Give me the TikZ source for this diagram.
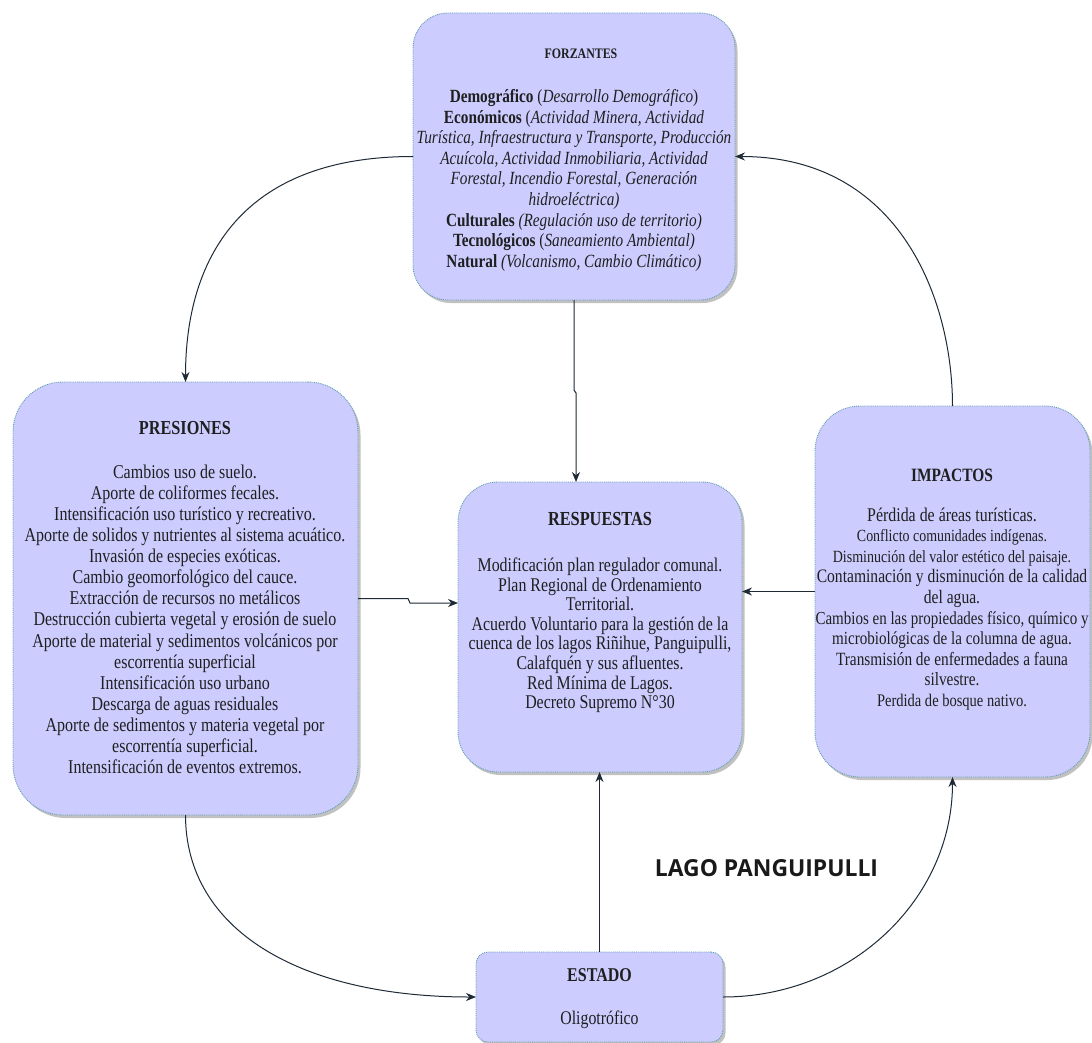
\documentclass[tikz,border=0pt]{standalone}
\usepackage{graphicx}
\usepackage{fontspec}
\setmainfont{Liberation Serif}[FakeStretch=0.82]
\newfontfamily\lagofont{Open Sans}
\usetikzlibrary{arrows.meta,shadows,calc}
\definecolor{boxfill}{HTML}{CCCCFF}
\definecolor{boxline}{HTML}{5E9CB0}
\definecolor{edgecol}{HTML}{1E2A36}
\newcommand{\fs}[1]{\fontsize{#1}{#1}\selectfont}
\begin{document}
\begin{tikzpicture}[x=1pt,y=-1pt,
  box/.style={draw=boxline, densely dotted, line width=0.9pt, fill=boxfill,
    drop shadow={shadow xshift=2.5pt, shadow yshift=-3pt, opacity=0.4, fill=black!60},
    inner sep=0pt, outer sep=0pt},
  txt/.style={align=center, inner sep=0pt, text=black!88},
  arr/.style={draw=edgecol, line width=1pt, -{Stealth[length=10pt,width=8pt]}},
]
\fill[white] (0,0) rectangle (1092,1043);
\useasboundingbox (0,0) rectangle (1092,1043);

% boxes
\node[box, rounded corners=35pt, minimum width=322pt, minimum height=287pt] (forz) at (574,156.5) {};
\node[box, rounded corners=50pt, minimum width=345pt, minimum height=433pt] (pres) at (185.5,598.5) {};
\node[box, rounded corners=40pt, minimum width=284pt, minimum height=290pt] (resp) at (600,627) {};
\node[box, rounded corners=45pt, minimum width=275pt, minimum height=371pt] (imp) at (952.5,591.5) {};
\node[box, rounded corners=12pt, minimum width=247pt, minimum height=90pt] (est) at (599.5,997) {};

% texts
\node[txt, font=\fontsize{18.6}{20.6}\selectfont] (forzT) at (574,160) {%
{\fs{14.5}\hspace*{14pt}\textbf{FORZANTES}}\\[23.4pt]
\textbf{Demográfico} (\textit{Desarrollo Demográfico})\\
\textbf{Económicos} (\textit{Actividad Minera, Actividad}\\
\textit{Turística, Infraestructura y Transporte, Producción}\\
\textit{Acuícola, Actividad Inmobiliaria, Actividad}\\
\textit{Forestal, Incendio Forestal, Generación}\\
\textit{hidroeléctrica)}\\
\textbf{Culturales} \textit{(Regulación uso de territorio)}\\
\textbf{Tecnológicos} (\textit{Saneamiento Ambiental)}\\
\textbf{Natural} \textit{(Volcanismo, Cambio Climático)}};

\node[txt, font=\fontsize{19.5}{21.1}\selectfont] (presT) at (185,597.5) {%
{\fs{19.8}\textbf{PRESIONES}}\\[23pt]
Cambios uso de suelo.\\
Aporte de coliformes fecales.\\
Intensificación uso turístico y recreativo.\\
Aporte de solidos y nutrientes al sistema acuático.\\
Invasión de especies exóticas.\\
Cambio geomorfológico del cauce.\\
Extracción de recursos no metálicos\\
Destrucción cubierta vegetal y erosión de suelo\\
Aporte de material y sedimentos volcánicos por\\
escorrentía superficial\\
Intensificación uso urbano\\
Descarga de aguas residuales\\
Aporte de sedimentos y materia vegetal por\\
escorrentía superficial.\\
Intensificación de eventos extremos.};

\node[txt, font=\fontsize{19.4}{19.6}\selectfont] (respT) at (600,612.5) {%
{\fs{19.9}\textbf{RESPUESTAS}}\\[26.4pt]
Modificación plan regulador comunal.\\
Plan Regional de Ordenamiento\\
Territorial.\\
Acuerdo Voluntario para la gestión de la\\
cuenca de los lagos Riñihue, Panguipulli,\\
Calafquén y sus afluentes.\\
Red Mínima de Lagos.\\
Decreto Supremo N°30};

\node[txt, font=\fontsize{18.5}{20.6}\selectfont] (impT) at (952,589.5) {%
{\fs{18.8}\textbf{IMPACTOS}}\\[19.4pt]
{\fs{19.4}Pérdida de áreas turísticas.}\\
{\fs{17}Conflicto comunidades indígenas.}\\
{\fs{17.1}Disminución del valor estético del paisaje.}\\
{\fs{19}Contaminación y disminución de la calidad}\\
{\fs{19}del agua.}\\
{\fs{18.3}Cambios en las propiedades físico, químico y}\\
{\fs{18.4}microbiológicas de la columna de agua.}\\
{\fs{18.7}Transmisión de enfermedades a fauna}\\
{\fs{18.7}silvestre.}\\
{\fs{17.7}Perdida de bosque nativo.}};

\node[txt, font=\fontsize{19.3}{19}\selectfont] (estT) at (599.5,999) {%
{\fs{19.5}\textbf{ESTADO}}\\[24pt]
Oligotrófico};

\node[text=black!90, font=\lagofont\bfseries, inner sep=0pt] (lago) at (766.5,868.5)
  {\resizebox{223pt}{17pt}{LAGO PANGUIPULLI}};

% connectors
\draw[arr] (forz.west) .. controls (240,156.5) and (185.5,260) .. (pres.north);
\draw[arr] (imp.north) .. controls (952.5,300) and (900,156.5) .. (forz.east);
\draw[arr] (forz.south) -- (574,390) -- (576,393) -- ($(resp.north)+(-24,0)$);
\draw[arr] (pres.east) -- (408,598.5) -- (410,603) -- ($(resp.west)+(0,-24)$);
\draw[arr] (imp.west) -- (resp.east |- imp.west);
\draw[arr] (est.north) -- (est.north |- resp.south);
\draw[arr] (pres.south) .. controls (185.5,930) and (300,997) .. (est.west);
\draw[arr] (est.east) .. controls (850,997) and (952.5,900) .. (imp.south);
\end{tikzpicture}
\end{document}
